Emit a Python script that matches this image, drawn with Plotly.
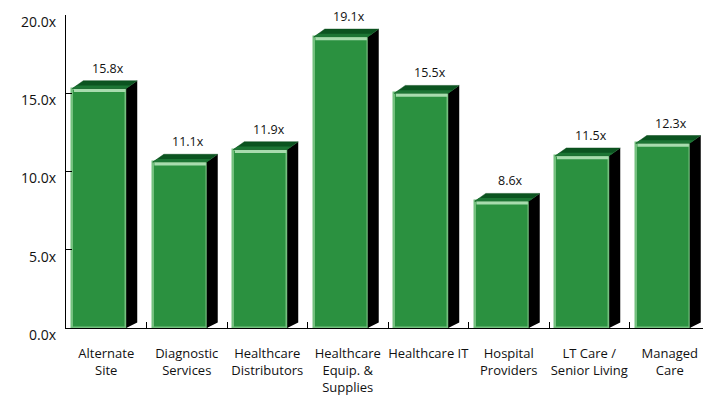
import plotly.graph_objects as go

categories = ["Alternate<br>Site", "Diagnostic<br>Services", "Healthcare<br>Distributors",
              "Healthcare<br>Equip. &<br>Supplies", "Healthcare IT", "Hospital<br>Providers",
              "LT Care /<br>Senior Living", "Managed<br>Care"]
values = [15.8, 11.1, 11.9, 19.1, 15.5, 8.6, 11.5, 12.3]
y_ticks = [0, 5, 10, 15, 20]

FONT = "Open Sans"
n = len(values)
xs = list(range(n))

# 3D geometry (in axis units)
front_off = -0.087
front_w = 0.67
dx = 0.137
dy = 0.5

fig = go.Figure()

side_x, side_y, top_x, top_y, topf_x, topf_y, hl_x, hl_y = [], [], [], [], [], [], [], []
for i, v in enumerate(values):
    xl = i + front_off - front_w / 2
    xr = i + front_off + front_w / 2
    ft = v - dy
    side_x += [xr, xr + dx, xr + dx, xr, xr, None]
    side_y += [0, 0.35, v, ft, 0, None]
    top_x += [xl, xl + dx, xr + dx, xr, xl, None]
    top_y += [ft, v, v, ft, ft, None]
    # front half of the top face (lighter)
    mx = dx * 0.4
    my = dy * 0.4
    topf_x += [xl, xl + mx, xr + mx, xr, xl, None]
    topf_y += [ft, ft + my, ft + my, ft, ft, None]
    hl_x += [xl + 0.02, xr - 0.01, None]
    hl_y += [ft - 0.12, ft - 0.12, None]

fig.add_trace(go.Scatter(x=side_x, y=side_y, mode="lines", fill="toself",
                         fillcolor="#000000", line=dict(width=0, color="#000000"),
                         hoverinfo="skip", showlegend=False))
fig.add_trace(go.Scatter(x=top_x, y=top_y, mode="lines", fill="toself",
                         fillcolor="#0b5420", line=dict(width=0.5, color="#0a4a1a"),
                         hoverinfo="skip", showlegend=False))
fig.add_trace(go.Scatter(x=topf_x, y=topf_y, mode="lines", fill="toself",
                         fillcolor="#1c7534", line=dict(width=0, color="#1c7534"),
                         hoverinfo="skip", showlegend=False))
fig.add_trace(go.Bar(x=[i + front_off for i in xs], y=[v - dy for v in values], width=front_w,
                     marker=dict(color="#2b9140", line=dict(color="#74c07e", width=2.5)),
                     hoverinfo="skip", showlegend=False))
fig.add_trace(go.Scatter(x=hl_x, y=hl_y, mode="lines",
                         line=dict(width=3, color="#a8dcae"),
                         hoverinfo="skip", showlegend=False))

for i, v in enumerate(values):
    fig.add_annotation(x=i + 0.02, y=v, text=f"{v:.1f}x", showarrow=False,
                       yanchor="bottom", yshift=2, font=dict(family=FONT, size=12.5, color="#111111"))

fig.update_layout(
    width=703, height=402,
    margin=dict(l=66, r=0, t=15, b=74),
    paper_bgcolor="white", plot_bgcolor="white",
    font=dict(family=FONT, color="#111111"),
    bargap=0,
    xaxis=dict(
        range=[-0.5, 7.413], tickmode="array", tickvals=xs, ticktext=categories,
        showline=True, linecolor="black", linewidth=1.2, ticks="", showgrid=False, zeroline=False,
        tickfont=dict(family=FONT, size=13, color="#111111"),
        ticklabelstandoff=13,
        minor=dict(tickmode="array", tickvals=[i + 0.5 for i in xs], ticks="inside",
                   ticklen=6, tickcolor="black", tickwidth=1, showgrid=False),
        fixedrange=True,
    ),
    yaxis=dict(
        range=[-0.001, 20.001], tickmode="array", tickvals=y_ticks,
        ticktext=[f"{t:.1f}x" for t in y_ticks],
        showline=True, linecolor="black", linewidth=1.2, ticks="inside", ticklen=6,
        tickcolor="black", showgrid=False, zeroline=False,
        tickfont=dict(family=FONT, size=14, color="#111111"),
        ticklabelshift=7, ticklabelstandoff=6,
        fixedrange=True,
    ),
)

fig.write_html("out.html")
